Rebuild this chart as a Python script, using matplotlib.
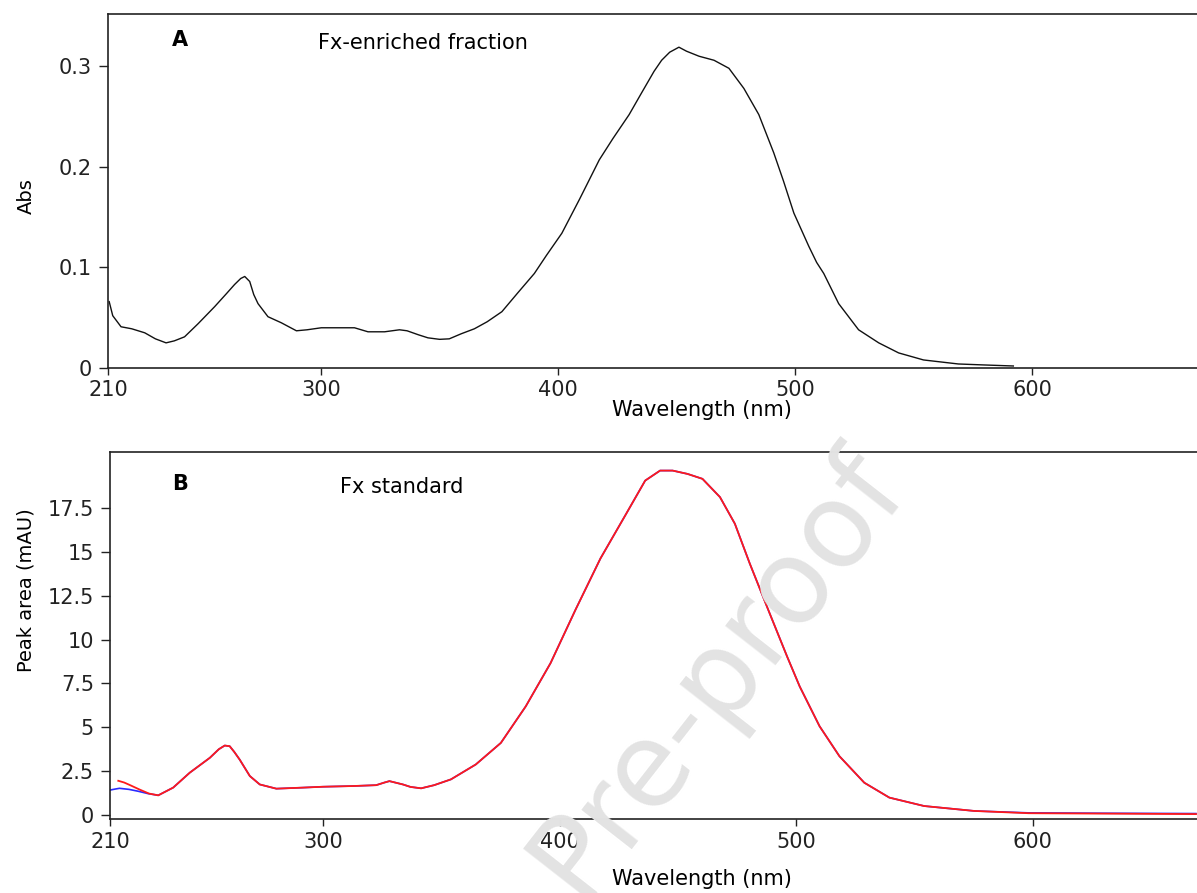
"""
Absorption spectra: Fx-enriched fraction (A) and Fx standard (B).
"""

import matplotlib
matplotlib.use("Agg")
import matplotlib.pyplot as plt

# panel A: Fx-enriched fraction, absorbance
abs_wl = [210.5, 212, 215.5, 220, 225.5, 230, 234.5, 238, 242.3, 248, 255, 260,
          263.4, 266, 267.7, 269.8, 271.5, 273.3, 277.5, 283.1, 289.5, 294, 300,
          307, 314, 319.7, 326.7, 333, 336.2, 341, 345, 349.9, 354, 359, 364.6,
          370, 376.2, 383, 389.9, 395, 401.5, 409, 417.3, 423, 429.9, 435, 440.4,
          443.6, 447, 450.9, 454.1, 459.4, 465.7, 472, 478.3, 484.6, 490.9, 495,
          499.4, 505.7, 509, 512, 518.3, 526.7, 535.2, 543.6, 554.1, 568.8, 580, 592]
abs_val = [0.066, 0.052, 0.041, 0.039, 0.035, 0.029, 0.025, 0.027, 0.031, 0.044,
           0.061, 0.074, 0.083, 0.089, 0.091, 0.086, 0.073, 0.064, 0.051, 0.045,
           0.037, 0.038, 0.040, 0.040, 0.040, 0.036, 0.036, 0.038, 0.037, 0.033,
           0.030, 0.0285, 0.029, 0.034, 0.039, 0.046, 0.056, 0.075, 0.094, 0.112,
           0.134, 0.168, 0.207, 0.228, 0.252, 0.273, 0.295, 0.306, 0.314, 0.319,
           0.315, 0.310, 0.306, 0.298, 0.278, 0.252, 0.214, 0.186, 0.154, 0.121,
           0.105, 0.094, 0.064, 0.038, 0.025, 0.015, 0.008, 0.004, 0.003, 0.002]

# panel B: Fx standard, peak area (mAU); two overlaid spectra
std_wl = [230.4, 236.7, 243.7, 252.2, 256, 258.5, 260.6, 262.5, 264.8, 269.1,
          273.3, 280.3, 291.6, 300, 312.7, 322.5, 326, 328.1, 333.8, 337, 341.5,
          347, 354.1, 364.6, 375.2, 385.7, 396.2, 406.7, 417.3, 427.8, 436.2,
          442.5, 447.8, 454.1, 460.4, 467.8, 474.1, 480.4, 488.8, 496.2, 501.5,
          509.9, 518.3, 528.8, 539.4, 554.1, 575.2]
std_val = [1.12, 1.56, 2.41, 3.26, 3.75, 3.96, 3.92, 3.6, 3.16, 2.22, 1.74, 1.50,
           1.56, 1.61, 1.65, 1.70, 1.85, 1.93, 1.74, 1.60, 1.52, 1.70, 2.03, 2.88,
           4.11, 6.19, 8.66, 11.69, 14.63, 17.09, 19.07, 19.64, 19.64, 19.45,
           19.17, 18.13, 16.61, 14.34, 11.5, 9.03, 7.33, 5.06, 3.35, 1.84, 0.99,
           0.51, 0.23]

blue_head_wl = [210, 211.5, 214, 218, 222, 226]
blue_head = [1.42, 1.46, 1.52, 1.46, 1.35, 1.22]
blue_tail_wl = [598.3, 627.8, 669]
blue_tail = [0.12, 0.10, 0.08]

red_head_wl = [213.5, 216, 218.5, 222.5, 226.5]
red_head = [1.95, 1.85, 1.70, 1.45, 1.22]
red_tail_wl = [598.3, 627.8, 669]
red_tail = [0.10, 0.08, 0.05]

X_TICKS = [210, 300, 400, 500, 600]
A_TICKS = [0, 0.1, 0.2, 0.3]
A_TICK_LABELS = ["0", "0.1", "0.2", "0.3"]
B_TICKS = [0, 2.5, 5, 7.5, 10, 12.5, 15, 17.5]
B_TICK_LABELS = ["0", "2.5", "5", "7.5", "10", "12.5", "15", "17.5"]

plt.rcParams["font.family"] = ["DejaVu Sans"]
FS = 15
FS_LABEL = 14

W, H = 1197, 893
fig = plt.figure(figsize=(W / 100, H / 100), dpi=100)


def _frame(ax):
    ax.spines["right"].set_visible(False)
    for side in ("left", "top", "bottom"):
        ax.spines[side].set_linewidth(1.2)
        ax.spines[side].set_color("#222222")
    ax.tick_params(direction="out", width=1, labelsize=FS, colors="#222222")
    ax.tick_params(axis="y", length=6.5, pad=5)
    ax.tick_params(axis="x", length=5, pad=4)
    ax.set_xticks(X_TICKS)
    ax.set_xticklabels([str(t) for t in X_TICKS])


# axes run past the right edge of the figure, as in the cropped original
ax_a = fig.add_axes([108 / W, 1 - 368 / H, (1293 - 108) / W, (368 - 14) / H])
ax_a.plot(abs_wl, abs_val, color="#111111", lw=1.0)
ax_a.set_xlim(210, 710)
ax_a.set_ylim(0, 0.352)
_frame(ax_a)
ax_a.set_yticks(A_TICKS)
ax_a.set_yticklabels(A_TICK_LABELS)
ax_a.set_xlabel("Wavelength (nm)", fontsize=FS)
ax_a.xaxis.set_label_coords(702 / W, 1 - 400 / H, transform=fig.transFigure)
ax_a.set_ylabel("Abs", fontsize=FS_LABEL, va="center", ha="center")
ax_a.yaxis.set_label_coords(26 / W, 1 - 196 / H, transform=fig.transFigure)
ax_a.text(240.4, 0.326, "A", fontsize=FS, fontweight="bold", ha="center", va="center")
ax_a.text(298.6, 0.323, "Fx-enriched fraction", fontsize=FS, ha="left", va="center")

ax_b = fig.add_axes([110 / W, 1 - 819 / H, (1293 - 110) / W, (819 - 452) / H])
ax_b.plot(blue_head_wl + std_wl + blue_tail_wl, blue_head + std_val + blue_tail,
          color="#2a2aff", lw=1.2)
ax_b.plot(red_head_wl + std_wl + red_tail_wl, red_head + std_val + red_tail,
          color="#ff1a1a", lw=1.3)
ax_b.set_xlim(210, 710)
ax_b.set_ylim(-0.23, 20.7)
_frame(ax_b)
ax_b.set_yticks(B_TICKS)
ax_b.set_yticklabels(B_TICK_LABELS)
ax_b.set_xlabel("Wavelength (nm)", fontsize=FS)
ax_b.xaxis.set_label_coords(702 / W, 1 - 869 / H, transform=fig.transFigure)
ax_b.set_ylabel("Peak area (mAU)", fontsize=FS_LABEL, va="center", ha="center")
ax_b.yaxis.set_label_coords(26 / W, 1 - 590 / H, transform=fig.transFigure)
ax_b.text(239.5, 18.9, "B", fontsize=FS, fontweight="bold", ha="center", va="center")
ax_b.text(307, 18.7, "Fx standard", fontsize=FS, ha="left", va="center")

# journal watermark
fig.text(718 / W, 1 - 672 / H, "Pre-proof", fontsize=84, color="#e3e3e3",
         rotation=52, ha="center", va="center", zorder=10)

fig.savefig("out.png", dpi=100)
